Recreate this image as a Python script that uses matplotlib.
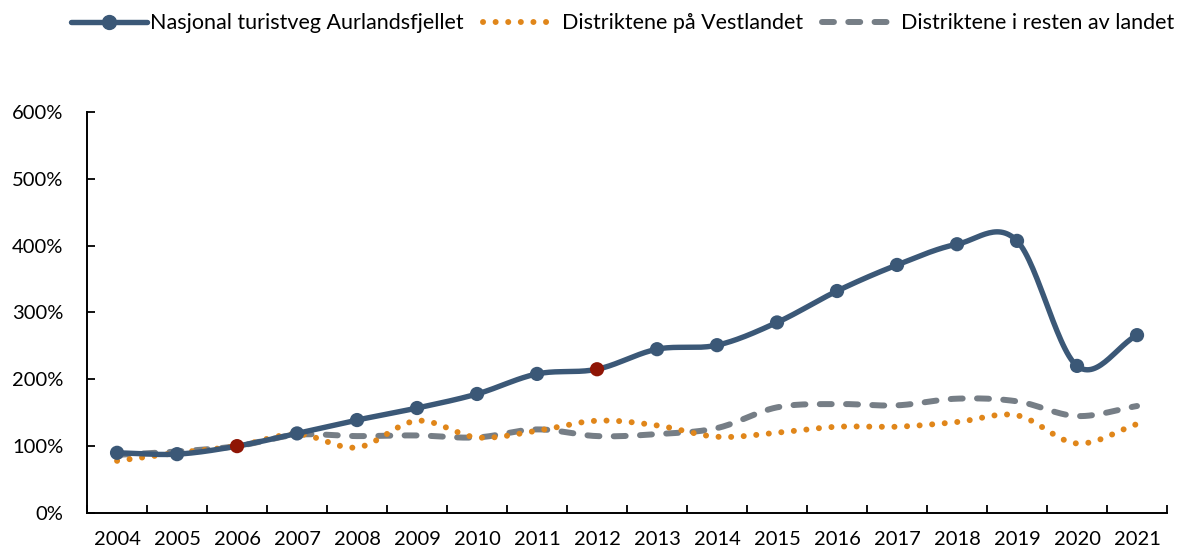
import matplotlib.pyplot as plt
import matplotlib as mpl
import numpy as np
from matplotlib.lines import Line2D

mpl.rcParams['font.family'] = 'Lato'

years = [str(y) for y in range(2004, 2022)]
aurland = [90, 88, 100, 119, 139, 157, 178, 208, 215, 245, 251, 285, 332, 371, 402, 407, 220, 266]
vestland = [78, 90, 100, 118, 98, 138, 113, 123, 138, 131, 114, 120, 129, 129, 136, 146, 104, 133]
resten = [87, 92, 100, 117, 115, 116, 113, 125, 115, 118, 127, 158, 163, 161, 171, 167, 145, 160]
highlight = ['2006', '2012']

c_main = '#3b5877'
c_red = '#8f1505'
c_orange = '#e0861a'
c_gray = '#767e86'


def smooth(y, n=30):
    # catmull-rom, like excel's smoothed line
    y = np.asarray(y, float) / 100
    x = np.arange(len(y), dtype=float)
    px = np.r_[2 * x[0] - x[1], x, 2 * x[-1] - x[-2]]
    py = np.r_[2 * y[0] - y[1], y, 2 * y[-1] - y[-2]]
    xs, ys = [], []
    t = np.linspace(0, 1, n, endpoint=False)
    for i in range(1, len(px) - 2):
        for p, out in ((px, xs), (py, ys)):
            p0, p1, p2, p3 = p[i - 1], p[i], p[i + 1], p[i + 2]
            out.append(0.5 * (2 * p1 + (-p0 + p2) * t + (2 * p0 - 5 * p1 + 4 * p2 - p3) * t ** 2
                              + (-p0 + 3 * p1 - 3 * p2 + p3) * t ** 3))
    xs.append([x[-1]])
    ys.append([y[-1]])
    return np.concatenate(xs), np.concatenate(ys)


fig = plt.figure(figsize=(11.86, 5.51), dpi=100)
ax = fig.add_axes([0.0734, 0.069, 0.9106, 0.728])

lw_dot = 4.3
sx, sy = smooth(resten)
ax.plot(sx, sy, color=c_gray, lw=lw_dot, ls=(0, (2, 2.4)), dash_capstyle='round', zorder=2)
sx, sy = smooth(vestland)
ax.plot(sx, sy, color=c_orange, lw=lw_dot, ls=(0, (0.01, 2.1)), dash_capstyle='round', zorder=3)
sx, sy = smooth(aurland)
ax.plot(sx, sy, color=c_main, lw=3.9, solid_capstyle='round', zorder=4)
mcol = [c_red if yr in highlight else c_main for yr in years]
ax.scatter(np.arange(len(years)), np.array(aurland) / 100, s=105, c=mcol, zorder=5, linewidths=0)

ax.set_xlim(-0.5, len(years) - 0.5)
ax.set_ylim(0, 6)
ax.set_xticks(np.arange(len(years)))
ax.set_xticklabels(years)
ax.set_xticks(np.arange(len(years) + 1) - 0.5, minor=True)
ax.tick_params(axis='x', which='major', length=0, pad=13, labelsize=14.5)
ax.tick_params(axis='x', which='minor', direction='in', length=6, width=1.3)
ax.set_yticks(np.arange(0, 7))
ax.yaxis.set_major_formatter(mpl.ticker.FuncFormatter(lambda v, p: f'{v * 100:.0f}%'))
ax.tick_params(axis='y', direction='in', length=6, width=1.3, pad=17, labelsize=14.5)
for s in ['top', 'right']:
    ax.spines[s].set_visible(False)
for s in ['left', 'bottom']:
    ax.spines[s].set_linewidth(1.4)

handles = [
    Line2D([], [], color=c_main, lw=3.9, marker='o', ms=10, solid_capstyle='round'),
    Line2D([], [], color=c_orange, lw=lw_dot, ls=(0, (0.01, 2.1)), dash_capstyle='round'),
    Line2D([], [], color=c_gray, lw=lw_dot, ls=(0, (2, 2.4)), dash_capstyle='round'),
]
labels = ['Nasjonal turistveg Aurlandsfjellet', 'Distriktene på Vestlandet', 'Distriktene i resten av landet']
fig.legend(handles, labels, loc='center', bbox_to_anchor=(0.525, 0.958), ncol=3, frameon=False,
           fontsize=15.5, handlelength=3.5, handletextpad=0.15, columnspacing=0.9, borderpad=0)

plt.savefig('out.png', dpi=100)
